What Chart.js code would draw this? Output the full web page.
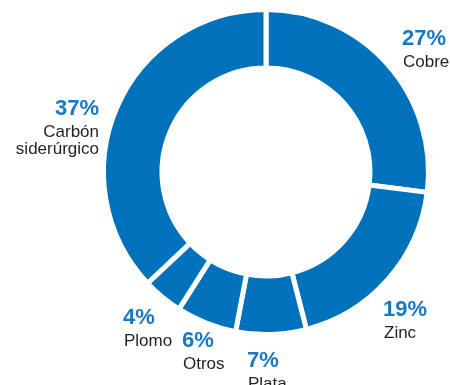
<!DOCTYPE html>
<html>
<head>
<meta charset="utf-8">
<script src="https://cdn.jsdelivr.net/npm/chart.js@4"></script>
<style>
  html, body { margin: 0; padding: 0; background: #fff; }
  #lienzo { display: block; }
</style>
</head>
<body>
<canvas id="lienzo" width="450" height="385"></canvas>
<script>
"use strict";

// Datos del gráfico (sentido horario desde arriba)
const categorias = ["Cobre", "Zinc", "Plata", "Otros", "Plomo", "Carbón siderúrgico"];
const valores = [27, 19, 7, 6, 4, 37];
const etiquetasPct = ["27%", "19%", "7%", "6%", "4%", "37%"];

const azul = "#0071bb";
const azulTexto = "#1a78c2";
const grisTexto = "#231f20";

/* ── Etiquetas ───────────────────────────── */
// posición de cada bloque de texto: x, línea base del %, alineación
const posiciones = [
  { x: 402, y: 45, align: "left" },
  { x: 383, y: 316, align: "left" },
  { x: 247, y: 367, align: "left" },
  { x: 182, y: 347, align: "left" },
  { x: 123, y: 324, align: "left" },
  { x: 99, y: 115, align: "right" },
];

const pluginEtiquetas = {
  id: "etiquetas",
  afterDraw(chart) {
    const ctx = chart.ctx;
    ctx.save();
    ctx.textBaseline = "alphabetic";
    categorias.forEach((nombre, i) => {
      const p = posiciones[i];
      ctx.textAlign = p.align;
      ctx.fillStyle = azulTexto;
      ctx.font = "bold 22px 'Liberation Sans', Arial, sans-serif";
      ctx.fillText(etiquetasPct[i], p.x, p.y);
      ctx.fillStyle = grisTexto;
      ctx.font = "17px 'Liberation Sans', Arial, sans-serif";
      // nombres largos en dos líneas
      const lineas = nombre === "Carbón siderúrgico" ? ["Carbón", "siderúrgico"] : [nombre];
      lineas.forEach((l, k) => {
        ctx.fillText(l, p.x + (p.align === "left" ? 1 : 0), p.y + 22 + k * 17);
      });
    });
    ctx.restore();
  },
};

const grafico = new Chart(document.getElementById("lienzo").getContext("2d"), {
  type: "doughnut",
  data: {
    labels: categorias,
    datasets: [
      {
        data: valores,
        backgroundColor: azul,
        borderColor: "#ffffff",
        borderWidth: 5,
        hoverOffset: 0,
      },
    ],
  },
  options: {
    responsive: false,
    animation: false,
    cutout: "64%",
    layout: { padding: { top: 7, bottom: 48, left: 101, right: 19 } },
    plugins: {
      legend: { display: false },
      tooltip: { enabled: false },
    },
  },
  plugins: [pluginEtiquetas],
});
</script>
</body>
</html>
